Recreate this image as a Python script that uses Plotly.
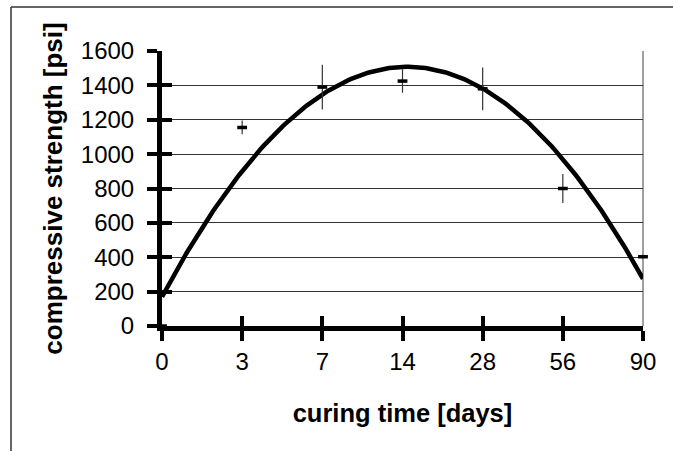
import numpy as np
import plotly.graph_objects as go

# ---- data ----
day_labels = ["0", "3", "7", "14", "28", "56", "90"]
strength_psi = [0, 1155, 1390, 1425, 1380, 800, 403]
strength_err = [0, 40, 130, 68, 124, 85, 15]
y_ticks = [0, 200, 400, 600, 800, 1000, 1200, 1400, 1600]
x_title = "curing time [days]"
y_title = "compressive strength [psi]"

pos = list(range(len(day_labels)))  # category positions (on tick marks)

# Excel-style 2nd order polynomial trendline fitted to the data
coef = np.polyfit(pos, strength_psi, 2)
t_fine = np.linspace(pos[0], pos[-1], 200)
trend = np.polyval(coef, t_fine)

W, H = 673, 451
L, R, T, B = 162, 30, 51, 125
pw, ph = W - L - R, H - T - B

def px_x(x):
    return (x - L) / pw

def px_y(y):
    return (H - B - y) / ph

FONT = "Liberation Sans, Arial, sans-serif"

fig = go.Figure()
fig.add_trace(go.Scatter(
    x=t_fine, y=trend, mode="lines",
    line=dict(color="black", width=4.5),
    hoverinfo="skip", showlegend=False,
))
fig.add_trace(go.Scatter(
    x=pos, y=strength_psi, mode="markers",
    marker=dict(symbol="line-ew", size=7, line=dict(color="black", width=3.5)),
    error_y=dict(type="data", array=strength_err, visible=True,
                 color="#333333", thickness=1.2, width=0),
    cliponaxis=False, showlegend=False,
))
# invisible trace for the overlay axes (inside ticks)
fig.add_trace(go.Scatter(x=[0], y=[0], xaxis="x2", yaxis="y2",
                         mode="markers", marker=dict(opacity=0),
                         showlegend=False, hoverinfo="skip"))

fig.update_layout(
    width=W, height=H,
    margin=dict(l=L, r=R, t=T, b=B, pad=0),
    paper_bgcolor="white", plot_bgcolor="white",
    font=dict(family=FONT, color="black", size=24),
    xaxis=dict(
        range=[0, 6], tickmode="array", tickvals=pos, ticktext=day_labels,
        showgrid=False, zeroline=False,
        showline=True, linecolor="black", linewidth=5,
        ticks="outside", ticklen=10, tickwidth=4, tickcolor="black",
        tickfont=dict(size=24, family=FONT),
        ticklabelstandoff=0,
        title=dict(text="<b>" + x_title + "</b>", font=dict(size=25.5, family=FONT), standoff=32),
    ),
    yaxis=dict(
        range=[0, 1600], tickmode="array", tickvals=y_ticks,
        showgrid=True, gridcolor="#333333", gridwidth=1, zeroline=False,
        showline=True, linecolor="black", linewidth=5,
        ticks="outside", ticklen=10, tickwidth=4, tickcolor="black",
        tickfont=dict(size=24, family=FONT),
        ticklabelstandoff=8,
        title=dict(text="<b>" + y_title + "</b>", font=dict(size=26, family=FONT), standoff=12),
    ),
    xaxis2=dict(
        range=[0, 6], overlaying="x", anchor="y2", tickmode="array", tickvals=pos,
        showticklabels=False, showgrid=False, zeroline=False, showline=False,
        ticks="inside", ticklen=10, tickwidth=4, tickcolor="black",
    ),
    yaxis2=dict(
        range=[0, 1600], overlaying="y", anchor="x2", tickmode="array", tickvals=y_ticks,
        showticklabels=False, showgrid=False, zeroline=False, showline=False,
        ticks="inside", ticklen=10, tickwidth=4, tickcolor="black",
    ),
    shapes=[
        # plot-area right border
        dict(type="line", xref="paper", yref="paper", x0=1, x1=1, y0=0, y1=1,
             line=dict(color="#808080", width=1.5), layer="below"),
        # outer chart border (left and top)
        dict(type="line", xref="paper", yref="paper",
             x0=px_x(11), x1=px_x(11), y0=px_y(7), y1=px_y(H + 5),
             line=dict(color="#333333", width=1.5)),
        dict(type="line", xref="paper", yref="paper",
             x0=px_x(11), x1=px_x(W + 5), y0=px_y(7), y1=px_y(7),
             line=dict(color="#333333", width=1.5)),
    ],
)

fig.write_html("out.html",
               config={"displayModeBar": False},
               post_script="document.body.style.margin='0px';document.body.style.overflow='hidden';")
